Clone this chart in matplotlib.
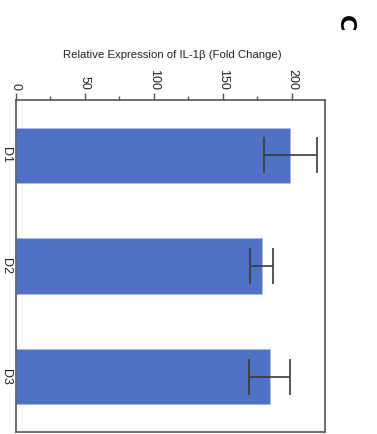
import numpy as np
import matplotlib.pyplot as plt
from matplotlib.ticker import MultipleLocator

groups = ['D1', 'D2', 'D3']
fold_change = [199, 178, 184]   # mean fold change
fold_err = [19.5, 8, 15]        # error bar half-width

plt.rcParams['font.family'] = ['Liberation Sans', 'DejaVu Sans']

fig = plt.figure(figsize=(3.77, 4.34), dpi=100)
ax = fig.add_axes([0.0424, 0.0046, 0.8196, 0.765])

pos = np.arange(len(groups))
ax.barh(pos, fold_change, height=0.5, color='#5072c5', edgecolor='#a9bbe6', linewidth=0.6,
        xerr=fold_err, error_kw=dict(ecolor='#3a3a3a', elinewidth=1.2, capsize=13, capthick=1.2))

ax.set_xlim(0, 224)
ax.set_ylim(2.5, -0.5)
ax.xaxis.set_major_locator(MultipleLocator(50))
ax.xaxis.set_minor_locator(MultipleLocator(25))
ax.xaxis.tick_top()
ax.tick_params(axis='x', which='major', length=5, width=1, color='#555555', pad=2,
               labelsize=9, labelcolor='#222222', labelrotation=-90)
ax.tick_params(axis='x', which='minor', length=3, width=1, color='#555555')
ax.set_yticks(pos)
ax.set_yticklabels(groups, rotation=-90, va='center', fontsize=9, color='#222222')
ax.tick_params(axis='y', length=0, pad=3)

for s in ax.spines.values():
    s.set_color('#555555')
    s.set_linewidth(1.2)

fig.text(0.456, 0.873, 'Relative Expression of IL-1β (Fold Change)', ha='center', va='center',
         fontsize=8.2, color='#222222')
fig.text(0.915, 0.947, 'C', ha='center', va='center', rotation=-90, fontsize=16,
         fontweight='bold', family='DejaVu Sans', color='black')

fig.savefig('out.png', dpi=100)
